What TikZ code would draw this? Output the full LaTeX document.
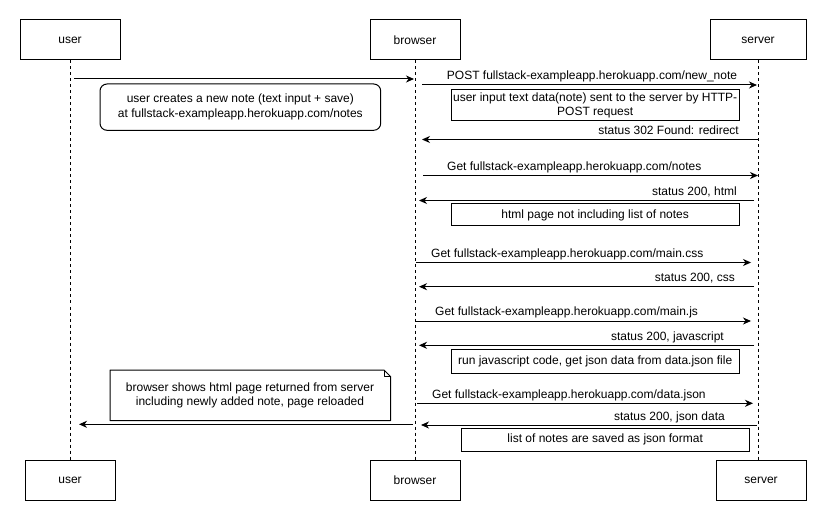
\documentclass[tikz,border=0pt]{standalone}
\usepackage{fontspec}
\setmainfont{Liberation Sans}
\usetikzlibrary{arrows.meta}
\tikzset{
  actorbox/.style={draw, line width=1pt, minimum width=100pt, minimum height=40pt, inner sep=0pt},
  lifeline/.style={line width=0.8pt, dash pattern=on 3pt off 3pt},
  msg/.style={line width=1pt, -{Stealth[length=8pt,width=7pt,inset=2.5pt]}},
  lbl/.style={inner sep=0pt},
  notebox/.style={draw, line width=1pt, inner sep=0pt, align=center},
}
\begin{document}
\begin{tikzpicture}[x=1pt,y=-1pt, font=\fontsize{12}{14.5}\selectfont]
\useasboundingbox[fill=white] (0,0) rectangle (827,521);

% actors top
\node[actorbox, minimum width=100pt] (utop) at (70,40) {user};
\node[actorbox, minimum width=90pt] (btop) at (415,40) {browser};
\node[actorbox, minimum width=96pt] (stop) at (758,40) {server};
% actors bottom
\node[actorbox, minimum width=90pt] (ubot) at (70,480) {user};
\node[actorbox, minimum width=90pt] (bbot) at (415,480) {browser};
\node[actorbox, minimum width=90pt] (sbot) at (761,480) {server};

% lifelines
\draw[lifeline] (utop.south) -- (70,460);
\draw[lifeline] (btop.south) -- (bbot.north);
\draw[lifeline] (stop.south) -- (758,460);

% messages
\coordinate (a1) at (74,79);  \coordinate (b1) at (414,79);
\draw[msg] (a1) -- (b1);

\coordinate (a2) at (422,85); \coordinate (b2) at (757,85);
\draw[msg] (a2) -- (b2);
\node[lbl, anchor=base] (l2) at (592,80) {POST fullstack-exampleapp.herokuapp.com/new\_note};

\node[notebox, minimum width=288pt, minimum height=31pt] (n2) at (595.2,105.3) {user input text data(note) sent to the server by HTTP-\\POST request};

\coordinate (a3) at (758,139.5); \coordinate (b3) at (422,139.5);
\draw[msg] (a3) -- (b3);
\node[lbl, anchor=base east] (l3) at (739,134.5) {status 302 Found: redirect};

\coordinate (a4) at (423,175.5); \coordinate (b4) at (758,175.5);
\draw[msg] (a4) -- (b4);
\node[lbl, anchor=base west] (l4) at (447,170.5) {Get fullstack-exampleapp.herokuapp.com/notes};

\coordinate (a5) at (754,200.5); \coordinate (b5) at (419,200.5);
\draw[msg] (a5) -- (b5);
\node[lbl, anchor=base east] (l5) at (737,196) {status 200, html};

\node[notebox, minimum width=288pt, minimum height=22pt] (n5) at (595.2,215) {html page not including list of notes};

\coordinate (a6) at (416,262.5); \coordinate (b6) at (751,262.5);
\draw[msg] (a6) -- (b6);
\node[lbl, anchor=base west] (l6) at (431,257.5) {Get fullstack-exampleapp.herokuapp.com/main.css};

\coordinate (a7) at (754,286.7); \coordinate (b7) at (419,286.7);
\draw[msg] (a7) -- (b7);
\node[lbl, anchor=base east] (l7) at (735,282) {status 200, css};

\coordinate (a8) at (416,321); \coordinate (b8) at (751,321);
\draw[msg] (a8) -- (b8);
\node[lbl, anchor=base west] (l8) at (435,316) {Get fullstack-exampleapp.herokuapp.com/main.js};

\coordinate (a9) at (754,345.3); \coordinate (b9) at (419,345.3);
\draw[msg] (a9) -- (b9);
\node[lbl, anchor=base east] (l9) at (724,340.5) {status 200, javascript};

\node[notebox, minimum width=288pt, minimum height=24pt] (n9) at (595.2,361.3) {run javascript code, get json data from data.json file};

\coordinate (a10) at (417,403.3); \coordinate (b10) at (753,403.3);
\draw[msg] (a10) -- (b10);
\node[lbl, anchor=base west] (l10) at (432,398.5) {Get fullstack-exampleapp.herokuapp.com/data.json};

\coordinate (a11) at (757,425); \coordinate (b11) at (421,425);
\draw[msg] (a11) -- (b11);
\node[lbl, anchor=base east] (l11) at (725,420.5) {status 200, json data};

\node[notebox, minimum width=288pt, minimum height=23pt] (n11) at (605.2,439.7) {list of notes are saved as json format};

\coordinate (a12) at (413,424.3); \coordinate (b12) at (79,424.3);
\draw[msg] (a12) -- (b12);

% rounded note
\node[notebox, rounded corners=7pt, minimum width=280.7pt, minimum height=46.3pt] (rn) at (240.35,107.15) {user creates a new note (text input + save)\\at fullstack-exampleapp.herokuapp.com/notes};

% folded note
\draw[line width=1pt, line join=round] (110,370) -- (384,370) -- (390.5,376.5) -- (390.5,420.5) -- (110,420.5) -- cycle;
\draw[line width=1pt, line join=round] (384,370) -- (384,376.5) -- (390.5,376.5);
\node[lbl, align=center] (fn) at (250,395.5) {browser shows html page returned from server\\including newly added note, page reloaded};
\end{tikzpicture}
\end{document}
